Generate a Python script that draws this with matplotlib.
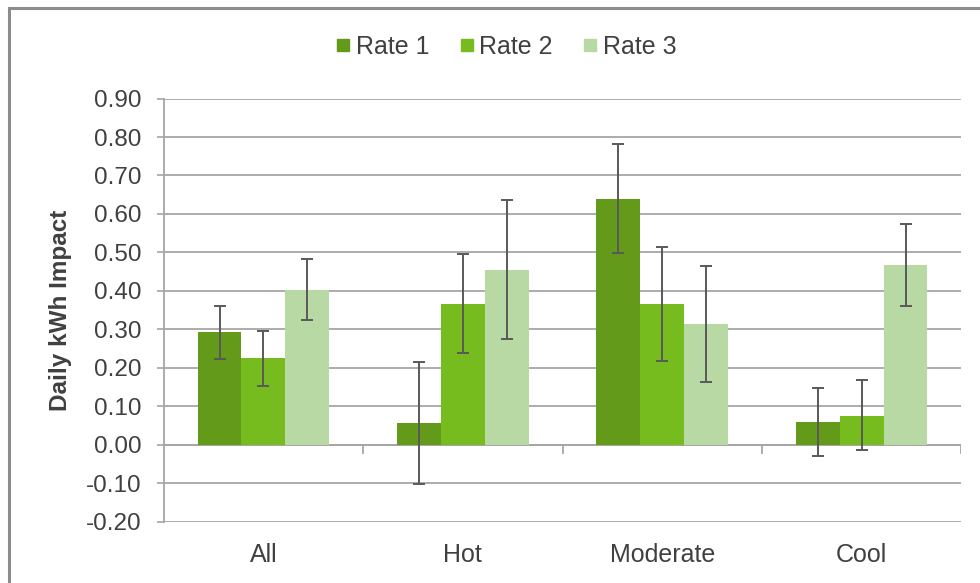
import matplotlib
matplotlib.use("Agg")
import matplotlib.pyplot as plt
import numpy as np
from matplotlib.patches import Rectangle
from matplotlib.lines import Line2D

#--------------------------------------------------
#datos

categorias = ["All", "Hot", "Moderate", "Cool"]
series = ["Rate 1", "Rate 2", "Rate 3"]

rate1 = [0.293, 0.056, 0.640, 0.059]
rate2 = [0.226, 0.367, 0.367, 0.076]
rate3 = [0.403, 0.454, 0.313, 0.467]

rate1_alto = [0.362, 0.215, 0.783, 0.148]
rate1_bajo = [0.222, -0.102, 0.499, -0.029]
rate2_alto = [0.295, 0.496, 0.513, 0.169]
rate2_bajo = [0.154, 0.238, 0.218, -0.013]
rate3_alto = [0.482, 0.636, 0.466, 0.573]
rate3_bajo = [0.325, 0.276, 0.162, 0.362]

colores = ["#639a1a", "#77bc1f", "#b8d8a4"]

#--------------------------------------------------
#figura

plt.rcParams['font.family'] = ['Liberation Sans', 'DejaVu Sans']

fig = plt.figure(figsize=(9.8, 5.83), dpi=100)
ax = fig.add_axes([0.167, 0.105, 0.814, 0.726])

x = np.arange(len(categorias))
ancho = 0.22
valores = [rate1, rate2, rate3]
altos = [rate1_alto, rate2_alto, rate3_alto]
bajos = [rate1_bajo, rate2_bajo, rate3_bajo]

for i in range(3):
    pos = x + (i - 1) * ancho
    v = np.array(valores[i])
    err = [v - np.array(bajos[i]), np.array(altos[i]) - v]
    ax.bar(pos, v, ancho, color=colores[i], zorder=2, label=series[i])
    ax.errorbar(pos, v, yerr=err, fmt="none", ecolor="#595959", elinewidth=1.4,
                capsize=4.5, capthick=1.4, zorder=3)

ax.set_xlim(-0.5, 3.5)
ax.set_ylim(-0.2, 0.9)
ticks = np.arange(-0.2, 0.91, 0.1)
ax.set_yticks(ticks)
ax.set_yticklabels([f"{t:.2f}" for t in ticks])
ax.yaxis.grid(True, color="#a6a6a6", linewidth=1.3, zorder=0)
ax.set_axisbelow(True)

for s in ["top", "right", "bottom"]:
    ax.spines[s].set_visible(False)
ax.spines["left"].set_color("#a6a6a6")
ax.spines["left"].set_linewidth(1.3)

ax.tick_params(axis="y", direction="out", length=5, color="#a6a6a6", width=1.2,
               labelsize=17.5, labelcolor="#404040", pad=11)
ax.set_xticks(x)
ax.set_xticklabels(categorias)
ax.tick_params(axis="x", length=0, labelsize=18, labelcolor="#404040", pad=15)

#marcas de categoria en el eje cero
for b in np.arange(0.5, 4.0, 1.0):
    ax.plot([b, b], [0, -0.02], color="#a6a6a6", linewidth=1.3, zorder=1)
ax.axhline(0, color="#a6a6a6", linewidth=1.3, zorder=1)

ax.set_ylabel("Daily kWh Impact", fontsize=17.5, fontweight="bold", color="#404040")
ax.yaxis.set_label_coords(-0.115, 0.5)

#leyenda
handles = [Line2D([], [], marker="s", linestyle="none", markersize=8.6,
                  markerfacecolor=c, markeredgecolor=c) for c in colores]
fig.legend(handles, series, loc="center", bbox_to_anchor=(0.515, 0.92), ncol=3,
           frameon=False, fontsize=18, handletextpad=0.1, columnspacing=1.1,
           labelcolor="#404040", handlelength=0.8)

#marco exterior
fig.patches.append(Rectangle((0.0095, -0.05), 1.2, 1.0366, transform=fig.transFigure,
                             fill=False, edgecolor="#8c8c8c", linewidth=2.2))

fig.savefig("out.png", dpi=100)
